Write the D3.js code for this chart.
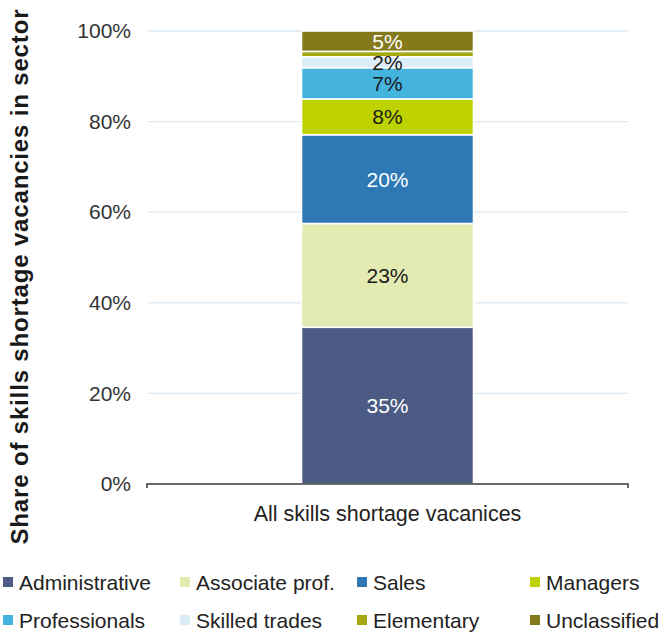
<!DOCTYPE html>
<html>
<head>
<meta charset="utf-8">
<script src="https://cdn.jsdelivr.net/npm/d3@7"></script>
<style>
  html, body { margin: 0; padding: 0; background: #fff; }
  svg { display: block; font-family: "Liberation Sans", Arial, sans-serif; }
</style>
</head>
<body>
<svg id="chart" width="669" height="633"></svg>
<script>
const categories = ["All skills shortage vacanices"];
const seriesNames = ["Administrative", "Associate prof.", "Sales", "Managers",
                     "Professionals", "Skilled trades", "Elementary", "Unclassified"];
const seriesValues = [34.6, 22.9, 19.6, 7.9, 6.9, 2.4, 1.2, 4.5];
const seriesLabels = ["35%", "23%", "20%", "8%", "7%", "2%", "", "5%"];
const seriesColors = ["#4b5b84", "#e3ebb2", "#2e79b5", "#bed200",
                      "#44b4df", "#dcedf7", "#a6a80f", "#847a1c"];
const labelColors  = ["#ffffff", "#1a1a1a", "#ffffff", "#1a1a1a",
                      "#1a1a1a", "#1a1a1a", "#1a1a1a", "#ffffff"];
const yTicks = [0, 20, 40, 60, 80, 100];
const yTitle = "Share of skills shortage vacancies in sector";

const svg = d3.select("#chart");

const y = d3.scaleLinear().domain([0, 100]).range([484, 31]);
const x = d3.scaleBand().domain(categories).range([147, 628]).padding(0.4732);

// gridlines
svg.append("g").selectAll("line")
  .data(yTicks.filter(t => t > 0))
  .join("line")
  .attr("x1", 148).attr("x2", 628)
  .attr("y1", d => y(d)).attr("y2", d => y(d))
  .attr("stroke", "#dbe9f5").attr("stroke-width", 1.3);

// y axis tick labels
const yAxis = d3.axisLeft(y).tickValues(yTicks).tickFormat(d => d + "%").tickSize(0).tickPadding(0);
const gy = svg.append("g").attr("transform", "translate(131,0)").call(yAxis);
gy.select(".domain").remove();
gy.selectAll("text").attr("font-size", 21).attr("fill", "#333")
  .attr("font-family", "Liberation Sans, Arial, sans-serif");

// stacked data
let cum = 0;
const stackData = seriesValues.map((v, i) => {
  const d = { name: seriesNames[i], y0: cum, y1: cum + v, label: seriesLabels[i],
              color: seriesColors[i], lc: labelColors[i] };
  cum += v;
  return d;
});

const cat = categories[0];
svg.append("g").selectAll("rect")
  .data(stackData)
  .join("rect")
  .attr("x", x(cat)).attr("width", x.bandwidth())
  .attr("y", d => y(d.y1)).attr("height", d => y(d.y0) - y(d.y1))
  .attr("fill", d => d.color)
  .attr("stroke", "#ffffff").attr("stroke-width", 1.6);

svg.append("g").selectAll("text")
  .data(stackData.filter(d => d.label))
  .join("text")
  .attr("x", x(cat) + x.bandwidth() / 2)
  .attr("y", d => y((d.y0 + d.y1) / 2))
  .attr("dy", "0.36em")
  .attr("text-anchor", "middle")
  .attr("font-size", 21)
  .attr("fill", d => d.lc)
  .text(d => d.label);

// x axis
const xAxis = d3.axisBottom(x).tickSize(0).tickPadding(22);
const gx = svg.append("g").attr("transform", "translate(0,484)").call(xAxis);
gx.select(".domain").remove();
gx.selectAll("text").attr("font-size", 21.5).attr("fill", "#222")
  .attr("font-family", "Liberation Sans, Arial, sans-serif");
svg.append("path")
  .attr("d", `M147,488V484H628V488`)
  .attr("fill", "none").attr("stroke", "#3a3a3a").attr("stroke-width", 1.5);

// y title
svg.append("text")
  .attr("transform", "translate(28,277) rotate(-90)")
  .attr("text-anchor", "middle")
  .attr("font-size", 24)
  .attr("font-weight", "bold")
  .attr("fill", "#1a1a1a")
  .attr("textLength", 535)
  .attr("lengthAdjust", "spacing")
  .text(yTitle);

// legend
const legCols = [3, 180, 357, 530];
const legRows = [582, 620];
const leg = svg.append("g").selectAll("g")
  .data(seriesNames)
  .join("g")
  .attr("transform", (d, i) => `translate(${legCols[i % 4]},${legRows[Math.floor(i / 4)]})`);
leg.append("rect")
  .attr("x", 0).attr("y", -5).attr("width", 10).attr("height", 10)
  .attr("fill", (d, i) => seriesColors[i]);
leg.append("text")
  .attr("x", 16).attr("dy", "0.36em")
  .attr("font-size", 21).attr("fill", "#222")
  .text(d => d);
</script>
</body>
</html>
